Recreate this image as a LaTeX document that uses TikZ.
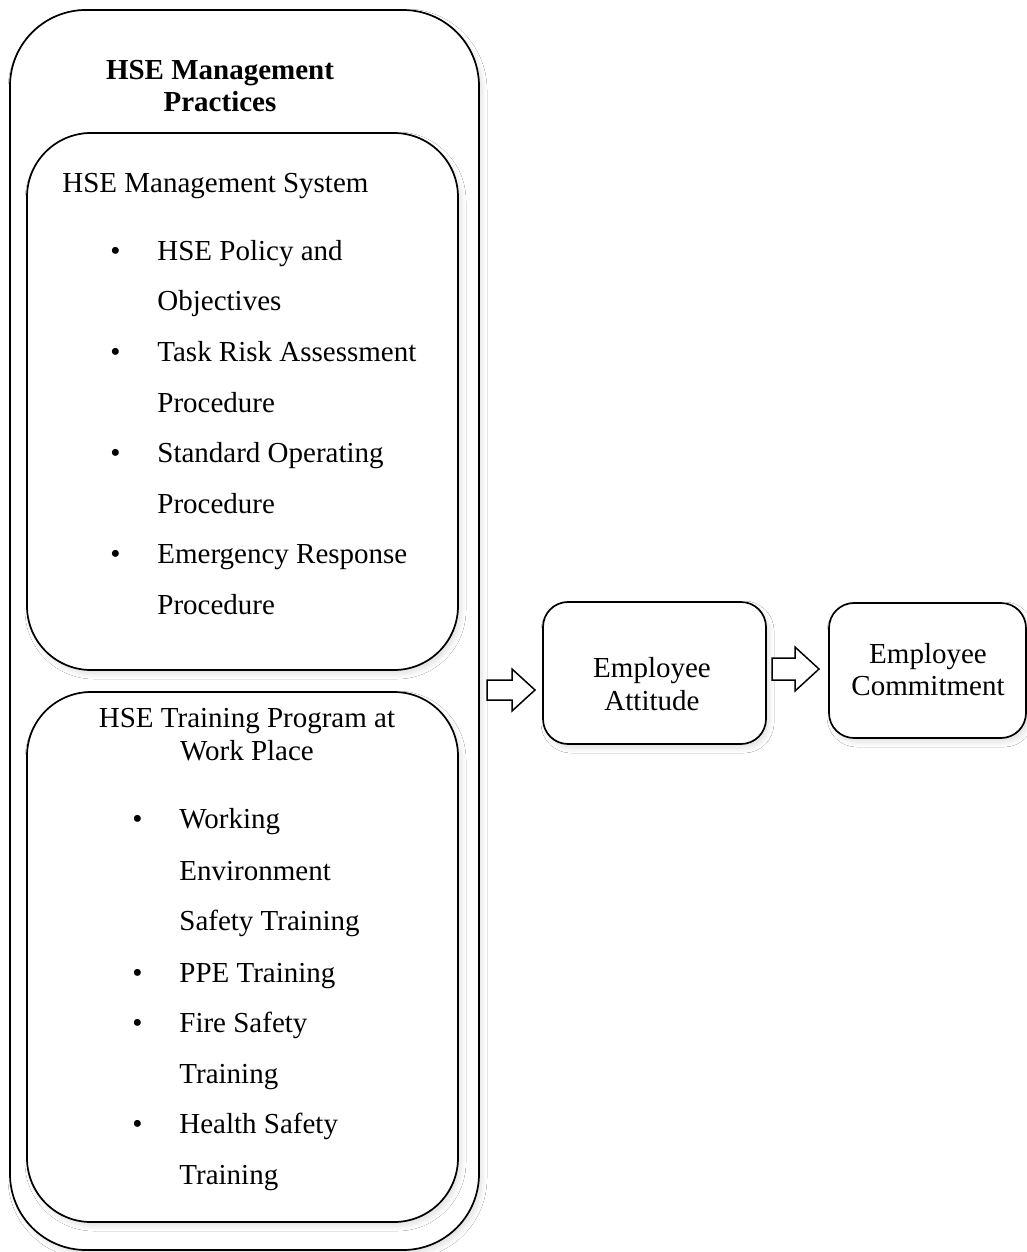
\documentclass[tikz,border=0pt]{standalone}
\usepackage{fontspec}
\setmainfont{Liberation Serif}
\usetikzlibrary{shadows.blur}
\begin{document}
\begin{tikzpicture}[x=0.5pt,y=-0.5pt,
  box/.style={draw=black, line width=0.85pt, fill=white, inner sep=0pt,
    blur shadow={shadow xshift=1.5pt, shadow yshift=-2pt, shadow opacity=12, shadow blur radius=2.5pt, shadow blur steps=8}},
  blockarrow/.style={draw=black, line width=0.75pt, fill=white, line join=miter},
  txt/.style={inner sep=0pt, font=\fontsize{14.5}{17}\selectfont},
  lft/.style={txt, anchor=base west},
  ctr/.style={txt, anchor=base},
  bul/.style={txt, anchor=base west}]
\useasboundingbox (0,0) rectangle (1027,1252);
\fill[white] (0,0) rectangle (1027,1252);
% boxes
\node[box, minimum width=234.5pt, minimum height=620pt, rounded corners=38pt] (outer) at (244.5,630) {};
\node[box, minimum width=215.5pt, minimum height=268.5pt, rounded corners=32pt] (sys) at (242.5,401.5) {};
\node[box, minimum width=215.5pt, minimum height=265pt, rounded corners=32pt] (trn) at (242.5,957) {};
\node[box, minimum width=111.5pt, minimum height=71pt, rounded corners=12.5pt] (att) at (654.5,673) {};
\node[box, minimum width=98.5pt, minimum height=67.5pt, rounded corners=12.5pt] (com) at (927.5,670.5) {};
% title
\node[ctr, font=\fontsize{14.5}{17}\selectfont\bfseries] (t1) at (220,80) {HSE Management};
\node[ctr, font=\fontsize{14.5}{17}\selectfont\bfseries] (t2) at (220,112) {Practices};
% system box
\node[lft] (s0) at (62,192) {HSE Management System};
\node[bul] (sb1) at (110,260) {•};
\node[lft] (s1) at (157,260) {HSE Policy and};
\node[lft] (s2) at (157,310) {Objectives};
\node[bul] (sb2) at (110,361) {•};
\node[lft] (s3) at (157,361) {Task Risk Assessment};
\node[lft] (s4) at (157,412) {Procedure};
\node[bul] (sb3) at (110,462) {•};
\node[lft] (s5) at (157,462) {Standard Operating};
\node[lft] (s6) at (157,513) {Procedure};
\node[bul] (sb4) at (110,563) {•};
\node[lft] (s7) at (157,563) {Emergency Response};
\node[lft] (s8) at (157,614) {Procedure};
% training box
\node[ctr] (r0a) at (247,727) {HSE Training Program at};
\node[ctr] (r0b) at (247,760) {Work Place};
\node[bul] (rb1) at (132,828) {•};
\node[lft] (r1) at (179,828) {Working};
\node[lft] (r2) at (179,880) {Environment};
\node[lft] (r3) at (179,930) {Safety Training};
\node[bul] (rb2) at (132,982) {•};
\node[lft] (r4) at (179,982) {PPE Training};
\node[bul] (rb3) at (132,1032) {•};
\node[lft] (r5) at (179,1032) {Fire Safety};
\node[lft] (r6) at (179,1083) {Training};
\node[bul] (rb4) at (132,1133) {•};
\node[lft] (r7) at (179,1133) {Health Safety};
\node[lft] (r8) at (179,1184) {Training};
% right boxes text
\node[ctr] (a1) at (652,677) {Employee};
\node[ctr] (a2) at (652,710) {Attitude};
\node[ctr] (c1) at (928,663) {Employee};
\node[ctr] (c2) at (928,695) {Commitment};
% block arrows
\draw[blockarrow] (487,680) -- (512,680) -- (512,669) -- (535,690) -- (512,711) -- (512,700) -- (487,700) -- cycle;
\draw[blockarrow] (772,658) -- (795,658) -- (795,647) -- (819,669) -- (795,691) -- (795,680) -- (772,680) -- cycle;
\end{tikzpicture}
\end{document}
